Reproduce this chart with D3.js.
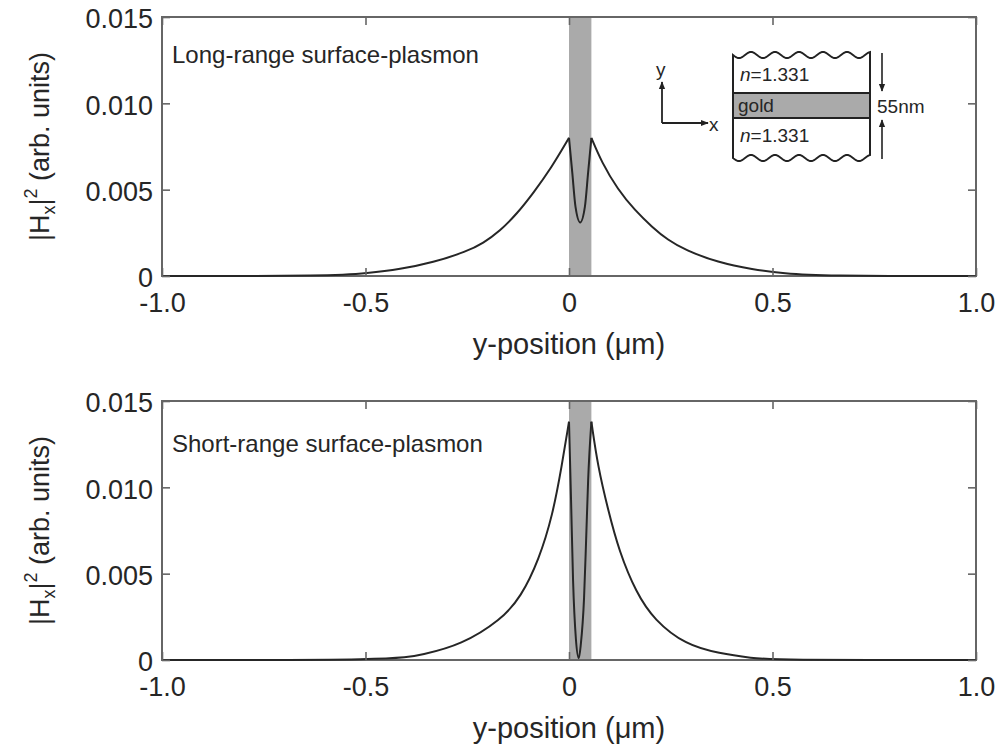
<!DOCTYPE html>
<html>
<head>
<meta charset="utf-8">
<script src="https://cdn.jsdelivr.net/npm/d3@7/dist/d3.min.js"></script>
<style>
  body { margin: 0; background: #fff; }
  svg { display: block; font-family: "Liberation Sans", Arial, Helvetica, sans-serif; }
</style>
</head>
<body>
<svg id="chart" width="1000" height="744"></svg>
<script>
// ---- data -------------------------------------------------------------
const xTicks = [-1.0, -0.5, 0, 0.5, 1.0];
const xTickLabels = ["-1.0", "-0.5", "0", "0.5", "1.0"];
const yTicks = [0, 0.005, 0.010, 0.015];
const yTickLabels = ["0", "0.005", "0.010", "0.015"];

// gold film, 55 nm thick (in µm)
const goldLayer = [0, 0.055];

// long-range surface plasmon |Hx|^2 profile
const longRangePos = [-1.0, -0.58, -0.496, -0.415, -0.334, -0.251, -0.211, -0.170, -0.128, -0.088, -0.045, 0,
                      0.008, 0.016, 0.0275, 0.039, 0.047, 0.055,
                      0.080, 0.120, 0.162, 0.204, 0.243, 0.285, 0.366, 0.450, 0.531, 0.615, 1.0];
const longRangeVal = [0, 0, 0.00016, 0.00039, 0.00078, 0.00142, 0.0019, 0.0026, 0.0036, 0.0048, 0.0062, 0.0080,
                      0.0060, 0.0040, 0.0031, 0.0040, 0.0060, 0.0080,
                      0.0066, 0.0050, 0.0038, 0.00284, 0.00208, 0.00151, 0.00078, 0.00038, 0.00015, 0, 0];

// short-range surface plasmon |Hx|^2 profile
const shortRangePos = [-1.0, -0.43, -0.36, -0.265, -0.167, -0.118, -0.074, -0.040, -0.018, 0,
                       0.005, 0.010, 0.017, 0.024, 0.029, 0.037, 0.042, 0.047, 0.055,
                       0.071, 0.096, 0.123, 0.165, 0.209, 0.287, 0.369, 0.452, 0.50, 1.0];
const shortRangeVal = [0, 0, 0.0003, 0.00087, 0.00232, 0.00365, 0.0058, 0.0084, 0.0112, 0.0138,
                       0.0093, 0.0046, 0.0012, 0.0001, 0.0009, 0.0036, 0.0069, 0.0104, 0.0138,
                       0.0112, 0.0087, 0.0063, 0.0039, 0.00232, 0.00087, 0.00038, 0.00011, 0, 0];

// ---- layout -----------------------------------------------------------
const svg = d3.select("#chart");
const plotLeft = 162, plotRight = 976;
const frameColor = "#666";
const curveColor = "#262626";
const textColor = "#262626";
const goldFill = "#aaaaaa";

function drawPanel(cfg) {
  const x = d3.scaleLinear().domain([-1, 1]).range([plotLeft, plotRight]);
  const y = d3.scaleLinear().domain([0, 0.015]).range([cfg.bottom, cfg.top]);
  const g = svg.append("g");

  // gold layer band
  g.append("rect")
    .attr("x", x(goldLayer[0]))
    .attr("width", x(goldLayer[1]) - x(goldLayer[0]))
    .attr("y", y(0.015))
    .attr("height", y(0) - y(0.015))
    .attr("fill", goldFill);

  // field profile: outer dielectric, inside metal, outer dielectric
  const pts = cfg.pos.map((p, i) => [p, cfg.val[i]]);
  const segments = [
    { pts: pts.filter(d => d[0] <= goldLayer[0]), curve: d3.curveBasis },
    { pts: pts.filter(d => d[0] >= goldLayer[0] && d[0] <= goldLayer[1]), curve: d3.curveMonotoneX },
    { pts: pts.filter(d => d[0] >= goldLayer[1]), curve: d3.curveBasis }
  ];

  // frame
  g.append("rect")
    .attr("x", plotLeft).attr("y", cfg.top)
    .attr("width", plotRight - plotLeft).attr("height", cfg.bottom - cfg.top)
    .attr("fill", "none").attr("stroke", frameColor).attr("stroke-width", 2);

  g.selectAll("path.curve").data(segments).join("path")
    .attr("class", "curve")
    .attr("d", s => d3.line().x(d => x(d[0])).y(d => y(d[1])).curve(s.curve)(s.pts))
    .attr("fill", "none")
    .attr("stroke", curveColor)
    .attr("stroke-width", 2)
    .attr("stroke-linejoin", "round");

  // axes with inward ticks
  const styleAxis = sel => {
    sel.select(".domain").remove();
    sel.selectAll(".tick line").attr("stroke", frameColor).attr("stroke-width", 1.6);
    sel.selectAll(".tick text").attr("fill", textColor).attr("font-size", 27)
      .attr("font-family", "Liberation Sans, Arial, sans-serif");
  };

  g.append("g").attr("transform", `translate(0,${cfg.bottom})`)
    .call(d3.axisBottom(x).tickValues(xTicks).tickFormat((d, i) => xTickLabels[i])
      .tickSize(-8).tickPadding(17))
    .call(styleAxis);

  g.append("g").attr("transform", `translate(0,${cfg.top})`)
    .call(d3.axisTop(x).tickValues(xTicks).tickFormat("").tickSize(-8))
    .call(styleAxis);

  g.append("g").attr("transform", `translate(${plotLeft},0)`)
    .call(d3.axisLeft(y).tickValues(yTicks).tickFormat((d, i) => yTickLabels[i])
      .tickSize(-8).tickPadding(9))
    .call(styleAxis)
    .call(a => a.selectAll(".tick text").attr("dy", "0.4em"));

  g.append("g").attr("transform", `translate(${plotRight},0)`)
    .call(d3.axisRight(y).tickValues(yTicks).tickFormat("").tickSize(-8))
    .call(styleAxis);

  // axis titles
  g.append("text")
    .attr("x", (plotLeft + plotRight) / 2).attr("y", cfg.bottom + 78)
    .attr("text-anchor", "middle").attr("font-size", 29).attr("fill", textColor)
    .text("y-position (\u03bcm)");

  const yt = g.append("text")
    .attr("transform", `translate(49,${(cfg.top + cfg.bottom) / 2}) rotate(-90)`)
    .attr("text-anchor", "middle").attr("font-size", 27).attr("fill", textColor);
  yt.append("tspan").text("|H");
  yt.append("tspan").attr("font-size", 18).attr("dy", 6).text("x");
  yt.append("tspan").attr("dy", -6).text("|");
  yt.append("tspan").attr("font-size", 18).attr("dy", -12).text("2");
  yt.append("tspan").attr("dy", 12).text(" (arb. units)");

  // panel label
  g.append("text")
    .attr("x", plotLeft + 10).attr("y", cfg.top + cfg.labelOffset)
    .attr("font-size", 24).attr("fill", textColor)
    .text(cfg.label);

  return { x, y };
}

drawPanel({ top: 17, bottom: 276, pos: longRangePos, val: longRangeVal,
            label: "Long-range surface-plasmon", labelOffset: 46 });
drawPanel({ top: 401, bottom: 660, pos: shortRangePos, val: shortRangeVal,
            label: "Short-range surface-plasmon", labelOffset: 51 });

// ---- inset: slab geometry ------------------------------------------------
const inset = svg.append("g");
const ink = "#222";
const bx0 = 733, bx1 = 870;

// wavy cut edge for the semi-infinite dielectric
function wavyEdge(x0, x1, yMid, amp, period) {
  const pts = [];
  for (let xx = x0; xx <= x1 + 0.01; xx += 1) {
    pts.push([xx, yMid + amp * Math.sin((xx - x0) / period * 2 * Math.PI)]);
  }
  return pts;
}
const topEdge = wavyEdge(bx0, bx1, 55, 3, 24);
const botEdge = wavyEdge(bx0, bx1, 158, 3, 24).reverse();
const outline = [...topEdge, ...botEdge];
inset.append("path")
  .attr("d", d3.line()(outline) + "Z")
  .attr("fill", "#fff").attr("stroke", ink).attr("stroke-width", 2);

inset.append("rect")
  .attr("x", bx0).attr("y", 93).attr("width", bx1 - bx0).attr("height", 25)
  .attr("fill", goldFill).attr("stroke", ink).attr("stroke-width", 2);

const n1 = inset.append("text").attr("x", 740).attr("y", 81).attr("font-size", 19).attr("fill", textColor);
n1.append("tspan").attr("font-style", "italic").text("n");
n1.append("tspan").text("=1.331");
const n2 = inset.append("text").attr("x", 740).attr("y", 142).attr("font-size", 19).attr("fill", textColor);
n2.append("tspan").attr("font-style", "italic").text("n");
n2.append("tspan").text("=1.331");
inset.append("text").attr("x", 738).attr("y", 112).attr("font-size", 19).attr("fill", textColor).text("gold");
inset.append("text").attr("x", 877).attr("y", 113).attr("font-size", 19).attr("fill", textColor).text("55nm");

// arrowhead marker
const defs = svg.append("defs");
defs.append("marker").attr("id", "arrow")
  .attr("viewBox", "0 0 10 10").attr("refX", 9).attr("refY", 5)
  .attr("markerWidth", 8).attr("markerHeight", 8).attr("orient", "auto-start-reverse")
  .attr("markerUnits", "userSpaceOnUse")
  .append("path").attr("d", "M0,1 L10,5 L0,9 Z").attr("fill", ink);

// coordinate axes
inset.append("line").attr("x1", 662).attr("y1", 123).attr("x2", 662).attr("y2", 82)
  .attr("stroke", ink).attr("stroke-width", 1.8).attr("marker-end", "url(#arrow)");
inset.append("line").attr("x1", 662).attr("y1", 123).attr("x2", 708).attr("y2", 123)
  .attr("stroke", ink).attr("stroke-width", 1.8).attr("marker-end", "url(#arrow)");
inset.append("text").attr("x", 656).attr("y", 76).attr("font-size", 19).attr("fill", textColor).text("y");
inset.append("text").attr("x", 709).attr("y", 131).attr("font-size", 19).attr("fill", textColor).text("x");

// thickness arrows
inset.append("line").attr("x1", 882).attr("y1", 53).attr("x2", 882).attr("y2", 91)
  .attr("stroke", ink).attr("stroke-width", 1.6).attr("marker-end", "url(#arrow)");
inset.append("line").attr("x1", 882).attr("y1", 159).attr("x2", 882).attr("y2", 120)
  .attr("stroke", ink).attr("stroke-width", 1.6).attr("marker-end", "url(#arrow)");
</script>
</body>
</html>
